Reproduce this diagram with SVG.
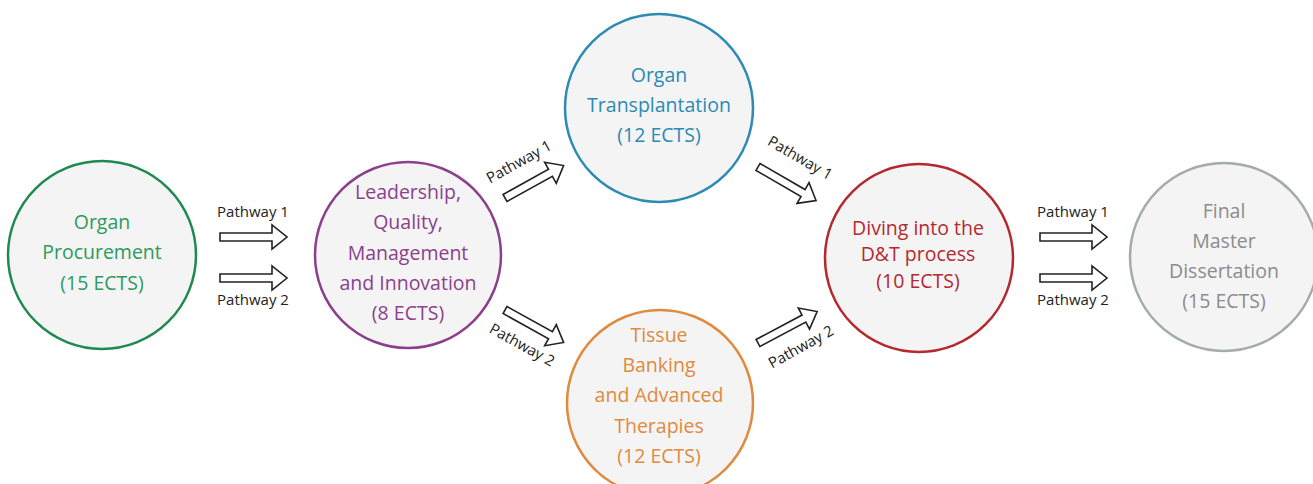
<svg xmlns="http://www.w3.org/2000/svg" xmlns:xlink="http://www.w3.org/1999/xlink" width="1313" height="484" viewBox="0 0 1313 484">
<style>
.node{fill:#f4f4f4;stroke-width:2.5}
.t{font-family:"Open Sans","Liberation Sans",sans-serif;font-size:19.5px;text-anchor:middle}
.lbl{font-family:"Open Sans","Liberation Sans",sans-serif;font-size:15px;font-weight:500;fill:#222;text-anchor:middle}
.arr{fill:#fff;stroke:#222;stroke-width:1.6;stroke-linejoin:miter}
</style>
<defs>
<path id="ba" d="M0,-4 L52,-4 L52,-12 L67,0 L52,12 L52,4 L0,4 Z"/>
</defs>
<rect width="1313" height="484" fill="#fff"/>
<g id="organ-procurement">
<circle class="node" cx="102" cy="255" r="94" stroke="#1f8a4f"/>
<g class="t" fill="#2e9a5c"><text x="102" y="229">Organ</text><text x="102" y="259">Procurement</text><text x="102" y="290">(15 ECTS)</text></g>
</g>
<g id="leadership">
<circle class="node" cx="408" cy="255" r="93" stroke="#8b3f8d"/>
<g class="t" fill="#8b3f8d"><text x="408" y="199">Leadership,</text><text x="408" y="229">Quality,</text><text x="408" y="260">Management</text><text x="408" y="290">and Innovation</text><text x="408" y="320">(8 ECTS)</text></g>
</g>
<g id="organ-transplantation">
<circle class="node" cx="659" cy="108" r="94" stroke="#2b8bb3"/>
<g class="t" fill="#2b8bb3"><text x="659" y="82">Organ</text><text x="659" y="112">Transplantation</text><text x="659" y="142">(12 ECTS)</text></g>
</g>
<g id="tissue-banking">
<circle class="node" cx="660" cy="403" r="93" stroke="#e08a3e"/>
<g class="t" fill="#e08a3e"><text x="659" y="342">Tissue</text><text x="659" y="372">Banking</text><text x="659" y="402">and Advanced</text><text x="659" y="433">Therapies</text><text x="659" y="463">(12 ECTS)</text></g>
</g>
<g id="diving">
<circle class="node" cx="919" cy="258" r="94" stroke="#b22a2e"/>
<g class="t" fill="#b22a2e"><text x="918" y="235">Diving into the</text><text x="918" y="261">D&amp;T process</text><text x="918" y="288">(10 ECTS)</text></g>
</g>
<g id="final-dissertation">
<circle class="node" cx="1224" cy="257" r="94" stroke="#a3abab"/>
<g class="t" fill="#8c8c8c"><text x="1224" y="218">Final</text><text x="1224" y="248">Master</text><text x="1224" y="278">Dissertation</text><text x="1224" y="308">(15 ECTS)</text></g>
</g>
<g id="connectors">
<use xlink:href="#ba" class="arr" transform="translate(220,237)"/>
<use xlink:href="#ba" class="arr" transform="translate(220,278)"/>
<text class="lbl" x="253" y="217">Pathway 1</text>
<text class="lbl" x="253" y="305">Pathway 2</text>
<use xlink:href="#ba" class="arr" transform="translate(505,198) rotate(-29)"/>
<use xlink:href="#ba" class="arr" transform="translate(505,310) rotate(29)"/>
<text class="lbl" transform="translate(519,162) rotate(-29)" y="5">Pathway 1</text>
<text class="lbl" transform="translate(522,345) rotate(29)" y="5">Pathway 2</text>
<use xlink:href="#ba" class="arr" transform="translate(758,167) rotate(30)"/>
<use xlink:href="#ba" class="arr" transform="translate(758,343) rotate(-28)"/>
<text class="lbl" transform="translate(800,158) rotate(30)" y="5">Pathway 1</text>
<text class="lbl" transform="translate(801,347) rotate(-29)" y="5">Pathway 2</text>
<use xlink:href="#ba" class="arr" transform="translate(1040,237)"/>
<use xlink:href="#ba" class="arr" transform="translate(1040,278)"/>
<text class="lbl" x="1073" y="217">Pathway 1</text>
<text class="lbl" x="1073" y="305">Pathway 2</text>
</g>
</svg>
